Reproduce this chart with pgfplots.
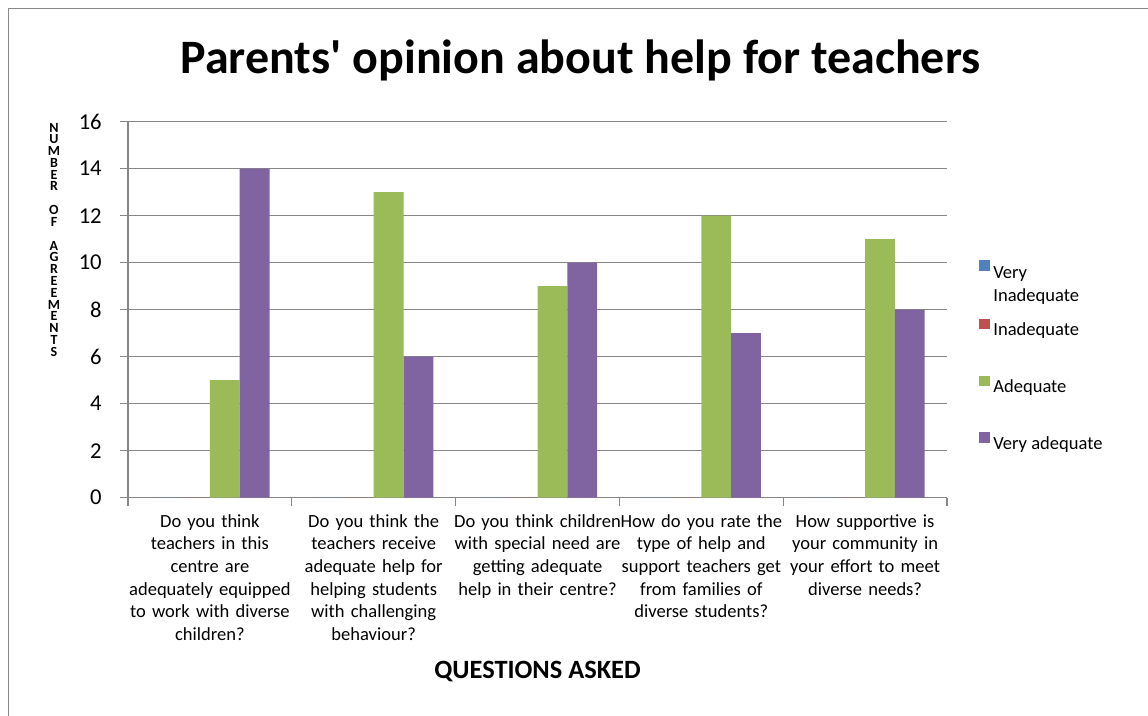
\documentclass[border=0pt]{standalone}
\usepackage{fontspec}
\setmainfont{Carlito}
\usepackage{pgfplots}
\pgfplotsset{compat=1.18}
\definecolor{vinad}{HTML}{4F81BD}
\definecolor{inad}{HTML}{C0504D}
\definecolor{adeq}{HTML}{9BBB59}
\definecolor{vadeq}{HTML}{8064A2}
\definecolor{axisgray}{HTML}{868686}
\definecolor{framegray}{HTML}{898989}
\pgfplotsset{sq/.style={legend image code/.code={\fill[##1] (0pt,0.5pt) rectangle (8pt,8.5pt);}}}
\begin{document}
\begin{tikzpicture}
\useasboundingbox (0pt,0pt) rectangle (861pt,536.25pt);
\draw[framegray, line width=0.8pt] (6.2pt,-1pt) -- (6.2pt,530pt) -- (862pt,530pt);
\begin{axis}[
  at={(96pt,162.975pt)}, anchor=south west,
  scale only axis, width=614.25pt, height=282pt,
  ybar=0pt, bar width=22.35pt,
  xmin=-0.5, xmax=4.5, ymin=0, ymax=16,
  axis x line*=bottom, axis y line*=left,
  axis line style={draw=axisgray, line width=0.9pt, -},
  tick align=outside,
  major tick length=6pt,
  tick style={draw=axisgray, line width=0.9pt},
  ytick={0,2,...,16},
  ymajorgrids, grid style={draw=axisgray, line width=0.9pt},
  /pgf/number format/assume math mode=true,
  yticklabel style={font=\fontsize{17}{20}\selectfont, anchor=east, inner sep=0pt, xshift=-13.5pt},
  xtick={-0.5,0.5,...,4.5}, xticklabels={},
  extra x ticks={0,1,2,3,4},
  extra x tick labels={
    {Do you think\\teachers in this\\centre are\\adequately equipped\\to work with diverse\\children?},
    {Do you think the\\teachers receive\\adequate help for\\helping students\\with challenging\\behaviour?},
    {Do you think children\\with special need are\\getting adequate\\help in their centre?},
    {How do you rate the\\type of help and\\support teachers get\\from families of\\diverse students?},
    {How supportive is\\your community in\\your effort to meet\\diverse needs?}},
  extra x tick style={major tick length=0pt, grid=none},
  xticklabel style={font=\fontsize{13.9}{17}\selectfont, text width=130pt, align=center, anchor=base, inner sep=0pt, yshift=-22pt},
  title={Parents\textquotesingle{} opinion about help for teachers},
  title style={at={(0.5525,1.108)}, anchor=base, font=\bfseries\fontsize{36}{43}\selectfont, inner sep=0pt},
  xlabel={QUESTIONS ASKED},
  xlabel style={at={(0.5,-0.4795)}, anchor=base, font=\bfseries\fontsize{19.8}{24}\selectfont, inner sep=0pt},
  ylabel={\renewcommand\arraystretch{0.77}\begin{tabular}{@{}c@{}}N\\U\\M\\B\\E\\R\\\vphantom{N}\\O\\F\\\vphantom{N}\\A\\G\\R\\E\\E\\M\\E\\N\\T\\S\end{tabular}},
  ylabel style={at={(-0.0904,0.6827)}, anchor=center, rotate=-90, font=\bfseries\fontsize{10.5}{8.8}\selectfont, inner sep=0pt},
  legend cell align=left,
  legend style={at={(1.0395,0.632)}, anchor=north west, draw=none, fill=none, inner sep=0pt, outer sep=0pt, row sep=28.65pt, column sep=2.5pt, nodes={inner sep=0pt, outer sep=0pt, font=\fontsize{13.9}{17}\selectfont}},
]
\addplot[fill=vinad, draw=none, sq] coordinates {(0,0) (1,0) (2,0) (3,0) (4,0)};
\addlegendentry{\begin{tabular}[t]{@{}l@{}}Very\\Inadequate\end{tabular}}
\addplot[fill=inad, draw=none, sq] coordinates {(0,0) (1,0) (2,0) (3,0) (4,0)};
\addlegendentry{Inadequate}
\addplot[fill=adeq, draw=none, sq] coordinates {(0,5) (1,13) (2,9) (3,12) (4,11)};
\addlegendentry{Adequate}
\addplot[fill=vadeq, draw=none, sq] coordinates {(0,14) (1,6) (2,10) (3,7) (4,8)};
\addlegendentry{Very adequate}
\end{axis}
\end{tikzpicture}
\end{document}
